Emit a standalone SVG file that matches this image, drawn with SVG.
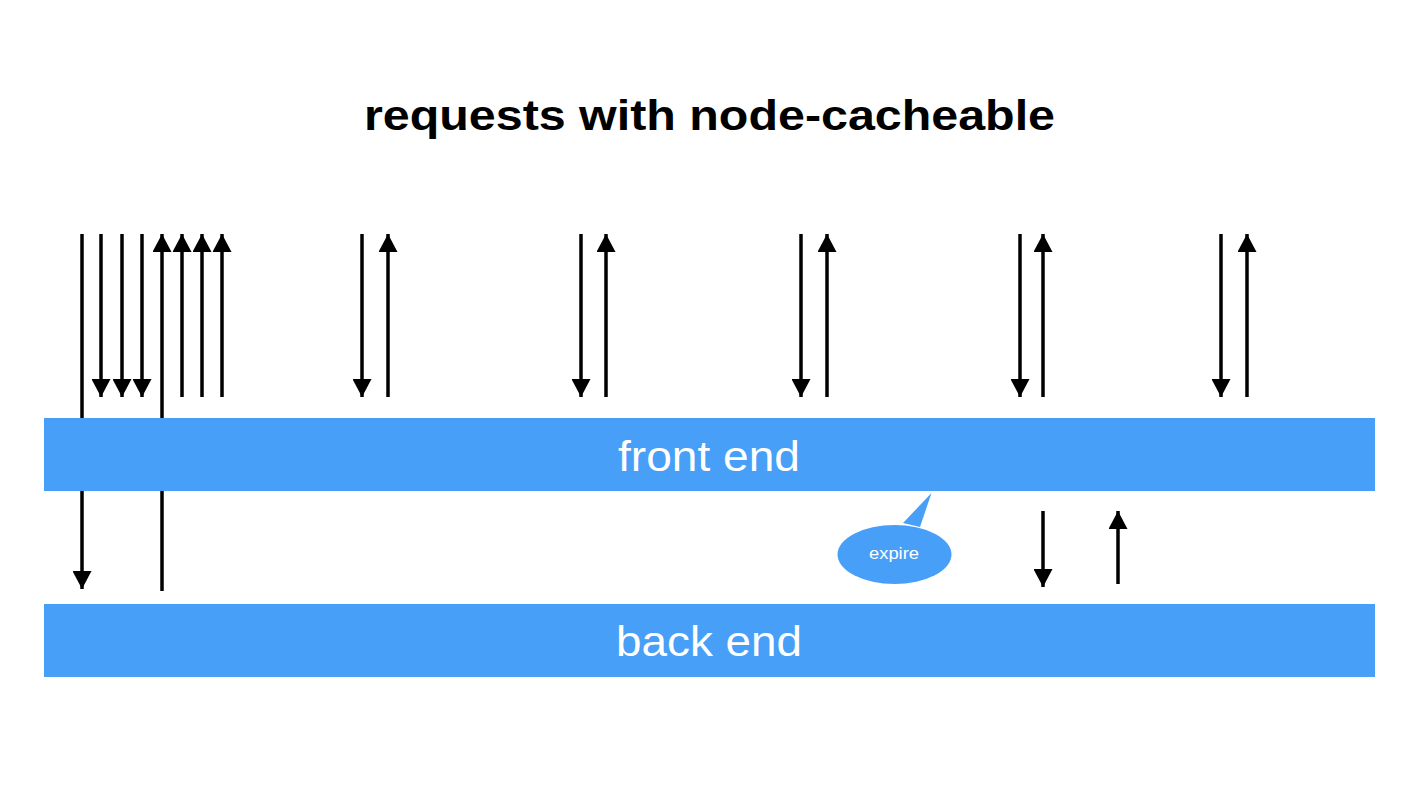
<svg xmlns="http://www.w3.org/2000/svg" width="1422" height="786" viewBox="0 0 1422 786">
<style>
.bar{fill:#479ff8}
.lbl{font-family:"Liberation Sans",Arial,sans-serif;fill:#fff;text-anchor:middle}
.ln{stroke:#000;stroke-width:3.5;fill:none}
.title{font-family:"Liberation Sans",Arial,sans-serif;font-weight:bold;font-size:42px;fill:#000;text-anchor:middle}
</style>
<defs>
<marker id="ah" viewBox="0 0 18 19" refX="18" refY="9.5" markerWidth="18" markerHeight="19" markerUnits="userSpaceOnUse" orient="auto">
<path d="M0,0 L18,9.5 L0,19 Z" fill="#000"/>
</marker>
</defs>
<rect width="1422" height="786" fill="#fff"/>
<text class="title" x="709.5" y="130" textLength="691" lengthAdjust="spacingAndGlyphs">requests with node-cacheable</text>
<g id="connectors">
<line class="ln" x1="82" y1="234" x2="82" y2="589" marker-end="url(#ah)"/>
<line class="ln" x1="162" y1="591" x2="162" y2="234" marker-end="url(#ah)"/>
<line class="ln" x1="101" y1="234" x2="101" y2="397" marker-end="url(#ah)"/>
<line class="ln" x1="122" y1="234" x2="122" y2="397" marker-end="url(#ah)"/>
<line class="ln" x1="142" y1="234" x2="142" y2="397" marker-end="url(#ah)"/>
<line class="ln" x1="182" y1="397" x2="182" y2="234" marker-end="url(#ah)"/>
<line class="ln" x1="202" y1="397" x2="202" y2="234" marker-end="url(#ah)"/>
<line class="ln" x1="222" y1="397" x2="222" y2="234" marker-end="url(#ah)"/>
<line class="ln" x1="362" y1="234" x2="362" y2="397" marker-end="url(#ah)"/>
<line class="ln" x1="388" y1="397" x2="388" y2="234" marker-end="url(#ah)"/>
<line class="ln" x1="581" y1="234" x2="581" y2="397" marker-end="url(#ah)"/>
<line class="ln" x1="606" y1="397" x2="606" y2="234" marker-end="url(#ah)"/>
<line class="ln" x1="801" y1="234" x2="801" y2="397" marker-end="url(#ah)"/>
<line class="ln" x1="827" y1="397" x2="827" y2="234" marker-end="url(#ah)"/>
<line class="ln" x1="1020" y1="234" x2="1020" y2="397" marker-end="url(#ah)"/>
<line class="ln" x1="1043" y1="397" x2="1043" y2="234" marker-end="url(#ah)"/>
<line class="ln" x1="1221" y1="234" x2="1221" y2="397" marker-end="url(#ah)"/>
<line class="ln" x1="1247" y1="397" x2="1247" y2="234" marker-end="url(#ah)"/>
<line class="ln" x1="1043" y1="511" x2="1043" y2="587" marker-end="url(#ah)"/>
<line class="ln" x1="1118" y1="584" x2="1118" y2="511" marker-end="url(#ah)"/>
</g>
<g id="front-end">
<rect class="bar" x="44" y="418" width="1331" height="73"/>
<text class="lbl" x="709" y="471" font-size="43" textLength="182" lengthAdjust="spacingAndGlyphs">front end</text>
</g>
<g id="back-end">
<rect class="bar" x="44" y="604" width="1331" height="73"/>
<text class="lbl" x="709" y="656" font-size="43" textLength="186" lengthAdjust="spacingAndGlyphs">back end</text>
</g>
<g id="expire">
<path class="bar" d="M903,523 L931.5,493 L920,527 Z"/>
<ellipse class="bar" cx="894.5" cy="554.5" rx="57" ry="29.5"/>
<text class="lbl" x="894" y="559" font-size="17" textLength="50" lengthAdjust="spacingAndGlyphs">expire</text>
</g>
</svg>
